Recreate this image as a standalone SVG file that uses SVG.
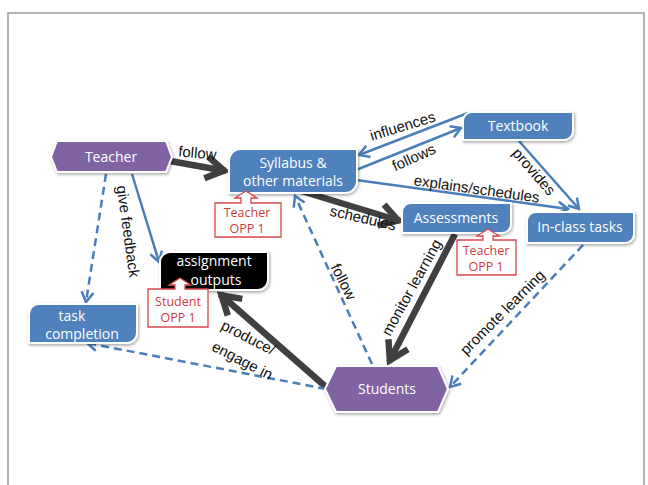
<svg xmlns="http://www.w3.org/2000/svg" width="648" height="485" viewBox="0 0 648 485">
  <defs>
    <style>
      .node-blue { fill: #4f81bd; stroke: #ffffff; stroke-width: 2; filter: url(#shadow); }
      .node-purple { fill: #8064a2; stroke: #ffffff; stroke-width: 2; filter: url(#shadow); }
      .node-black { fill: #000000; stroke: #ffffff; stroke-width: 2; filter: url(#shadow); }
      .node-text { font-family: "Open Sans", "Noto Sans", sans-serif; font-size: 14px; fill: #ffffff; text-anchor: middle; }
      .callout { fill: #ffffff; stroke: #d9474c; stroke-width: 1.3; }
      .callout-text { font-family: "Open Sans", "Noto Sans", sans-serif; font-size: 12.5px; fill: #cf3a3c; text-anchor: middle; }
      .label { font-family: "Liberation Sans", Arial, sans-serif; font-size: 15px; fill: #111111; text-anchor: middle; }
      .blue { fill: none; stroke: #4a7ebb; stroke-width: 2.5; }
      .blue-dash { fill: none; stroke: #4a7ebb; stroke-width: 2.5; stroke-dasharray: 8 5; }
      .dark { fill: none; stroke: #404040; stroke-width: 6.5; }
    </style>
    <filter id="shadow" x="-10%" y="-20%" width="130%" height="150%">
      <feDropShadow dx="1" dy="1.5" stdDeviation="1.5" flood-color="#000000" flood-opacity="0.35"/>
    </filter>
    <marker id="arrow-blue" viewBox="-12 -8 14 16" refX="0" refY="0" markerWidth="14" markerHeight="16" markerUnits="userSpaceOnUse" orient="auto">
      <path d="M-10,-6 L0,0 L-10,6" fill="none" stroke="#4a7ebb" stroke-width="2.5"/>
    </marker>
    <marker id="arrow-dark" viewBox="-24 -15 28 30" refX="0" refY="0" markerWidth="28" markerHeight="30" markerUnits="userSpaceOnUse" orient="auto">
      <path d="M-20,-11 L-2,0 L-20,11" fill="none" stroke="#404040" stroke-width="6.5"/>
    </marker>
  </defs>

  <!-- page frame -->
  <rect x="8" y="13" width="636" height="480" fill="#ffffff" stroke="#9a9a9a" stroke-width="1.5"/>

  <!-- connectors -->
  <g id="connectors">
    <path class="dark" d="M170,161 L226,171" marker-end="url(#arrow-dark)"/>
    <path class="blue" d="M468,113 L359,155" marker-end="url(#arrow-blue)"/>
    <path class="blue" d="M356,170 L461,128" marker-end="url(#arrow-blue)"/>
    <path class="blue" d="M356,180 L568,209" marker-end="url(#arrow-blue)"/>
    <path class="blue" d="M519,141 L579,209" marker-end="url(#arrow-blue)"/>
    <path class="dark" d="M298,190 L400,221" marker-end="url(#arrow-dark)"/>
    <path class="dark" d="M455,234 L389,362" marker-end="url(#arrow-dark)"/>
    <path class="blue-dash" d="M372,364 L295,196" marker-end="url(#arrow-blue)"/>
    <path class="blue-dash" d="M583,245 L450,387" marker-end="url(#arrow-blue)"/>
    <path class="dark" d="M326,387 L220,294" marker-end="url(#arrow-dark)"/>
    <path class="blue-dash" d="M326,389 L87,343" marker-end="url(#arrow-blue)"/>
    <path class="blue-dash" d="M106,174 L86,302" marker-end="url(#arrow-blue)"/>
    <path class="blue" d="M132,174 L159,262" marker-end="url(#arrow-blue)"/>
  </g>

  <!-- connector labels -->
  <g id="labels">
    <text class="label" transform="translate(197,158) rotate(5)">follow</text>
    <text class="label" transform="translate(404,131) rotate(-17)">influences</text>
    <text class="label" transform="translate(416,162) rotate(-24)">follows</text>
    <text class="label" transform="translate(476,194) rotate(8)">explains/schedules</text>
    <text class="label" transform="translate(530,175) rotate(49)">provides</text>
    <text class="label" transform="translate(362,223) rotate(13)">schedules</text>
    <text class="label" transform="translate(416,290) rotate(-61)">monitor learning</text>
    <text class="label" transform="translate(339,284) rotate(63)">follow</text>
    <text class="label" transform="translate(506,316) rotate(-45)">promote learning</text>
    <text class="label" transform="translate(246,342) rotate(27)">produce/</text>
    <text class="label" transform="translate(240,365) rotate(27)">engage in</text>
    <text class="label" transform="translate(123,232) rotate(82)">give feedback</text>
  </g>

  <!-- nodes -->
  <g id="teacher">
    <path class="node-purple" d="M51,157 L57,141 L166,141 L172,157 L166,172 L57,172 Z"/>
    <text class="node-text" x="111" y="162">Teacher</text>
  </g>
  <g id="syllabus">
    <path class="node-blue" d="M241,149 H357 V181 A12,12 0 0 1 345,193 H229 V161 A12,12 0 0 1 241,149 Z"/>
    <text class="node-text" x="293" y="168">Syllabus &amp;</text>
    <text class="node-text" x="293" y="186">other materials</text>
  </g>
  <g id="textbook">
    <path class="node-blue" d="M472,112 H573 V131 A9,9 0 0 1 564,140 H463 V121 A9,9 0 0 1 472,112 Z"/>
    <text class="node-text" x="518" y="131">Textbook</text>
  </g>
  <g id="assessments">
    <path class="node-blue" d="M411,203 H511 V224 A9,9 0 0 1 502,233 H402 V212 A9,9 0 0 1 411,203 Z"/>
    <text class="node-text" x="456" y="223">Assessments</text>
  </g>
  <g id="in-class-tasks">
    <path class="node-blue" d="M536,212 H634 V234 A9,9 0 0 1 625,243 H527 V221 A9,9 0 0 1 536,212 Z"/>
    <text class="node-text" x="580" y="232">In-class tasks</text>
  </g>
  <g id="assignment-outputs">
    <path class="node-black" d="M170,252 H268 V280 A10,10 0 0 1 258,290 H160 V262 A10,10 0 0 1 170,252 Z"/>
    <text class="node-text" x="214" y="266">assignment</text>
    <text class="node-text" x="216" y="285">outputs</text>
  </g>
  <g id="task-completion">
    <path class="node-blue" d="M40,304 H137 V333 A10,10 0 0 1 127,343 H29 V314 A10,10 0 0 1 40,304 Z"/>
    <text class="node-text" x="72" y="321">task</text>
    <text class="node-text" x="82" y="339">completion</text>
  </g>
  <g id="students">
    <path class="node-purple" d="M325,389 L336,366 L438,366 L448,389 L438,412 L336,412 Z"/>
    <text class="node-text" x="387" y="394">Students</text>
  </g>

  <!-- opportunity callouts -->
  <g id="teacher-opp-syllabus">
    <path class="callout" d="M215,203 H241 V198 H235 L246,191 L257,198 H251 V203 H281 V237 H215 Z"/>
    <text class="callout-text" x="247" y="217">Teacher</text>
    <text class="callout-text" x="247" y="233">OPP 1</text>
  </g>
  <g id="teacher-opp-assessments">
    <path class="callout" d="M457,240 H483 V236 H477 L488,229 L499,236 H493 V240 H516 V275 H457 Z"/>
    <text class="callout-text" x="486" y="255">Teacher</text>
    <text class="callout-text" x="486" y="271">OPP 1</text>
  </g>
  <g id="student-opp">
    <path class="callout" d="M148,289 H175 V285 H169 L180,278 L191,285 H185 V289 H208 V327 H148 Z"/>
    <text class="callout-text" x="178" y="306">Student</text>
    <text class="callout-text" x="178" y="322">OPP 1</text>
  </g>
</svg>
